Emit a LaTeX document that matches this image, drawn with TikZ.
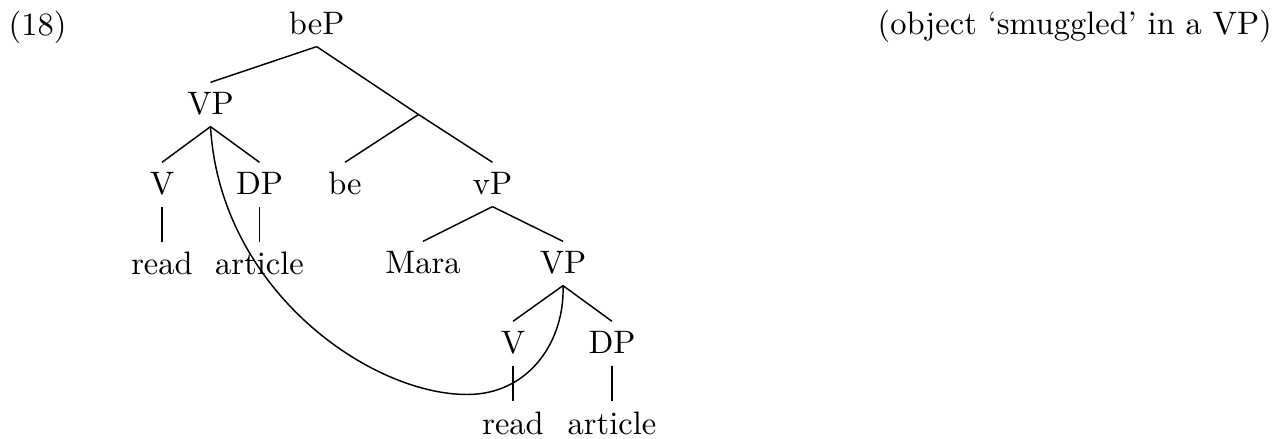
\documentclass[tikz,border=0pt]{standalone}
\begin{document}
\begin{tikzpicture}[x=0.3077pt,y=-0.3077pt,
  lab/.style={anchor=base,inner sep=0pt,text height=9.85pt,text depth=3.38pt,font=\fontsize{10}{12}\selectfont},
  edge/.style={line width=0.45pt}]
\useasboundingbox (0,0) rectangle (1272,439);
% labels
\node[anchor=base,inner sep=0pt] (ex) at (37.5,36) {(18)};
\node[anchor=base east,inner sep=0pt] (note) at (1272.5,35) {(object `smuggled' in a VP)};
% tree nodes
\node[lab] (beP) at (316.7,35) {beP};
\node[lab] (VPa) at (210.5,115) {VP};
\coordinate (bar) at (418.5,114.5);
\node[lab] (V1) at (162,195) {V};
\node[lab] (DP1) at (259.5,195) {DP};
\node[lab] (be) at (345,195) {be};
\node[lab] (vP) at (492.5,195) {vP};
\node[lab] (read1) at (162,275) {read};
\node[lab] (art1) at (259.5,275) {article};
\node[lab] (Mara) at (423,274) {Mara};
\node[lab] (VPb) at (563,274) {VP};
\node[lab] (V2) at (513,354) {V};
\node[lab] (DP2) at (612,354) {DP};
\node[lab] (read2) at (513,434) {read};
\node[lab] (art2) at (612,434) {article};
% edges
\draw[edge] (beP.south) -- (VPa.north);
\draw[edge] (beP.south) -- (bar);
\draw[edge] (bar) -- (be.north);
\draw[edge] (bar) -- (vP.north);
\draw[edge] (VPa.south) -- (V1.north);
\draw[edge] (VPa.south) -- (DP1.north);
\draw[edge] (V1.south) -- (read1.north);
\draw[edge] (DP1.south) -- (art1.north);
\draw[edge] (vP.south) -- (Mara.north);
\draw[edge] (vP.south) -- (VPb.north);
\draw[edge] (VPb.south) -- (V2.north);
\draw[edge] (VPb.south) -- (DP2.north);
\draw[edge] (V2.south) -- (read2.north);
\draw[edge] (DP2.south) -- (art2.north);
% movement curve
\coordinate (low) at (467,394.5);
\draw[edge] (VPa.south) .. controls (220,290) and (370,394.5) .. (low)
  .. controls (530,394.5) and (565,340) .. (VPb.south);
\end{tikzpicture}
\end{document}
